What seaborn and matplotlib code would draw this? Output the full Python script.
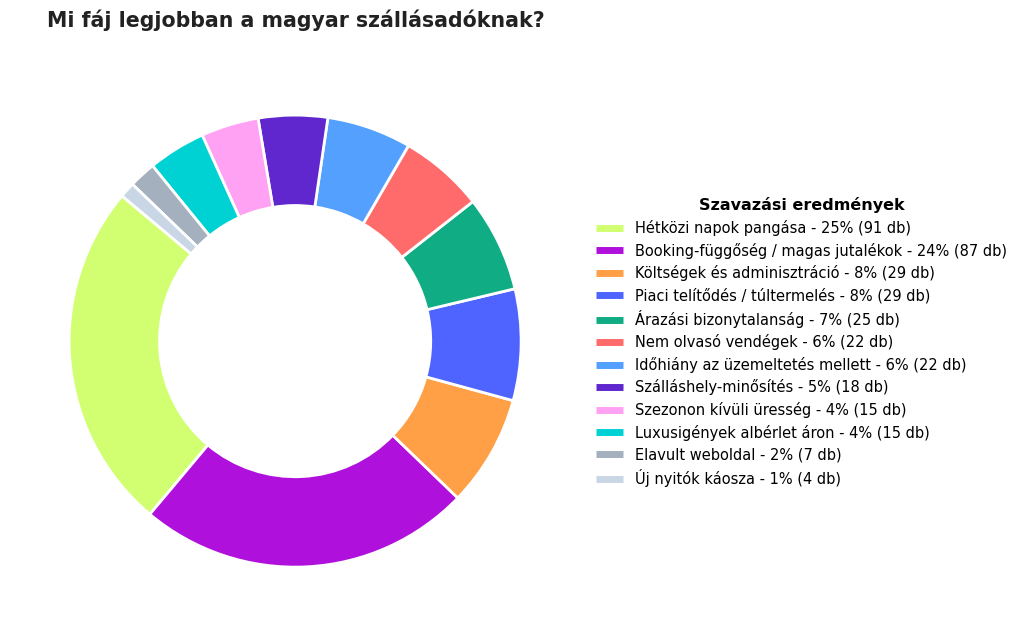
import matplotlib
matplotlib.use("Agg")
import matplotlib.pyplot as plt
from matplotlib.lines import Line2D
import seaborn as sns

# Survey results
categories = [
    "Hétközi napok pangása",
    "Booking-függőség / magas jutalékok",
    "Költségek és adminisztráció",
    "Piaci telítődés / túltermelés",
    "Árazási bizonytalanság",
    "Nem olvasó vendégek",
    "Időhiány az üzemeltetés mellett",
    "Szálláshely-minősítés",
    "Szezonon kívüli üresség",
    "Luxusigények albérlet áron",
    "Elavult weboldal",
    "Új nyitók káosza",
]
votes = [91, 87, 29, 29, 25, 22, 22, 18, 15, 15, 7, 4]
colors = ["#d2ff72", "#b010dc", "#ffa046", "#4f64ff", "#10ac84", "#ff6b6b",
          "#54a0ff", "#5f27cd", "#ffa2f3", "#00d2d3", "#a4b0be", "#c8d6e5"]

sns.set_style("white")
palette = sns.color_palette(colors)

total = sum(votes)
labels = [f"{c} - {round(v / total * 100)}% ({v} db)" for c, v in zip(categories, votes)]

fig = plt.figure(figsize=(10.24, 6.37), dpi=100)
ax = fig.add_axes([0.0122, 0.021, 0.552, 0.887])

ax.pie(votes, colors=palette, startangle=140, counterclock=True,
       wedgeprops=dict(width=0.4, edgecolor="white", linewidth=2))
ax.set_aspect("equal")

handles = [Line2D([0], [0], color=c, lw=5, solid_capstyle="butt") for c in palette]
leg = fig.legend(handles, labels, loc="center left", bbox_to_anchor=(0.569, 0.463),
                 frameon=False, fontsize=10.5, title="Szavazási eredmények",
                 title_fontproperties={"weight": "bold", "size": 11.5},
                 handlelength=1.9, labelspacing=0.45, labelcolor="black")
leg.get_title().set_color("black")

fig.text(47 / 1024, 1 - 20 / 637, "Mi fáj legjobban a magyar szállásadóknak?",
         fontsize=14.8, fontweight="bold", color="#222222", ha="left", va="center")

fig.savefig("out.png", dpi=100)
